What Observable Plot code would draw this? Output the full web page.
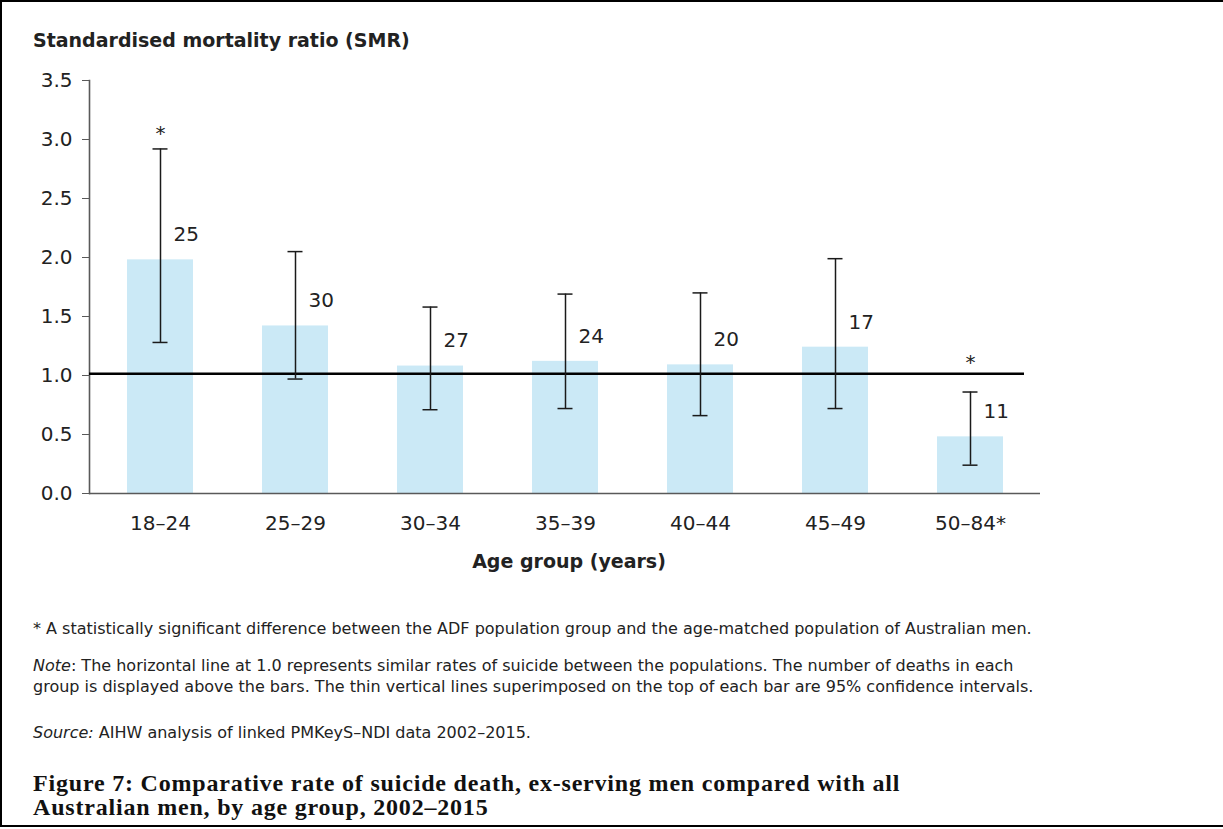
<!DOCTYPE html>
<html>
<head>
<meta charset="utf-8">
<script src="https://cdn.jsdelivr.net/npm/d3@7"></script>
<script src="https://cdn.jsdelivr.net/npm/@observablehq/plot@0.6"></script>
<style>
  body { margin: 0; background: #fff; }
  #wrap { position: relative; width: 1223px; height: 829px; overflow: hidden; background: #fff;
          font-family: "DejaVu Sans", sans-serif; color: #222; }
  #border { position: absolute; left: 0; top: 0; width: 1223px; height: 827px; box-sizing: border-box;
            border-left: 2px solid #000; border-top: 2px solid #000; border-bottom: 2px solid #000; }
  #chart { position: absolute; left: 0; top: 0; }
  .t { position: absolute; white-space: nowrap; line-height: 20px; }
  #ytitle { left: 33px; top: 30px; font-weight: bold; font-size: 19px; }
  #xtitle { left: 569px; top: 551px; transform: translateX(-50%); font-weight: bold; font-size: 19px; }
  .note { left: 33px; font-size: 16px; }
  #fig { position: absolute; left: 33px; top: 771px; font-family: "Liberation Serif", serif; font-weight: bold;
         font-size: 24px; line-height: 24px; letter-spacing: 0.8px; color: #111; white-space: nowrap; }
</style>
</head>
<body>
<div id="wrap">
  <div id="border"></div>
  <div id="chart"></div>
  <div class="t" id="ytitle"></div>
  <div class="t" id="xtitle"></div>
  <div class="t note" id="n1" style="top:619px"></div>
  <div class="t note" id="n2" style="top:656px"></div>
  <div class="t note" id="n3" style="top:677px"></div>
  <div class="t note" id="n4" style="top:723px"></div>
  <div id="fig"></div>
</div>
<script>
// ---- data ----
const ages = ["18–24", "25–29", "30–34", "35–39", "40–44", "45–49", "50–84*"];
const smr = [1.98, 1.42, 1.08, 1.12, 1.09, 1.24, 0.48];
const ciLow = [1.28, 0.97, 0.71, 0.72, 0.66, 0.72, 0.24];
const ciHigh = [2.92, 2.05, 1.58, 1.69, 1.70, 1.99, 0.86];
const deaths = [25, 30, 27, 24, 20, 17, 11];
const sigMarkY = [3.05, null, null, null, null, null, 1.11];
const refValue = 1.015;
const yTicks = [0, 0.5, 1.0, 1.5, 2.0, 2.5, 3.0, 3.5];

const yTitle = "Standardised mortality ratio (SMR)";
const xTitle = "Age group (years)";
const footnote = "* A statistically significant difference between the ADF population group and the age-matched population of Australian men.";
const noteLine1 = "The horizontal line at 1.0 represents similar rates of suicide between the populations. The number of deaths in each";
const noteLine2 = "group is displayed above the bars. The thin vertical lines superimposed on the top of each bar are 95% confidence intervals.";
const sourceText = "AIHW analysis of linked PMKeyS–NDI data 2002–2015.";
const figLine1 = "Figure 7: Comparative rate of suicide death, ex-serving men compared with all";
const figLine2 = "Australian men, by age group, 2002–2015";

const data = ages.map((a, i) => ({age: a, smr: smr[i], lo: ciLow[i], hi: ciHigh[i], n: deaths[i], sig: sigMarkY[i]}));

const ink = "#1a1a1a";
const axisGrey = "#595959";

const chart = Plot.plot({
  width: 1223,
  height: 600,
  marginLeft: 89,
  marginRight: 183,
  marginTop: 80,
  marginBottom: 107,
  style: {fontFamily: "'DejaVu Sans', sans-serif", fontSize: "20px", color: "#222", background: "transparent", overflow: "visible"},
  x: {domain: ages, paddingInner: 0.514, paddingOuter: 0.265, label: null},
  y: {domain: [0, 3.5], label: null},
  marks: [
    Plot.barY(data, {x: "age", y: "smr", fill: "#cbe9f6"}),
    Plot.ruleY([0], {stroke: axisGrey, strokeWidth: 1.6}),
    Plot.frame({anchor: "left", stroke: axisGrey, strokeWidth: 1.6}),
    Plot.ruleY([refValue], {stroke: "#000", strokeWidth: 2.5, insetRight: 16}),
    Plot.ruleX(data, {x: "age", y1: "lo", y2: "hi", stroke: ink, strokeWidth: 1.5}),
    Plot.tickY(data, {x: "age", y: "lo", stroke: ink, strokeWidth: 1.5, insetLeft: 25.5, insetRight: 25.5}),
    Plot.tickY(data, {x: "age", y: "hi", stroke: ink, strokeWidth: 1.5, insetLeft: 25.5, insetRight: 25.5}),
    Plot.text(data, {x: "age", y: "smr", text: "n", dx: 13, dy: -25, textAnchor: "start", fontSize: 20, fill: "#222"}),
    Plot.text(data.filter(d => d.sig != null), {x: "age", y: "sig", text: () => "*", fontSize: 20, fill: "#222"}),
    Plot.axisY({ticks: yTicks, tickFormat: d => d.toFixed(1), tickSize: 7, tickPadding: 10, fontSize: 20, stroke: axisGrey, fill: "#222", label: null}),
    Plot.axisX({tickSize: 0, tickPadding: 22, fontSize: 20, fill: "#222", label: null})
  ]
});
document.getElementById("chart").appendChild(chart);

document.getElementById("ytitle").textContent = yTitle;
document.getElementById("xtitle").textContent = xTitle;
document.getElementById("n1").textContent = footnote;
document.getElementById("n2").innerHTML = "<i>Note</i>: " + noteLine1;
document.getElementById("n3").textContent = noteLine2;
document.getElementById("n4").innerHTML = "<i>Source:</i> " + sourceText;
document.getElementById("fig").innerHTML = figLine1 + "<br>" + figLine2;
</script>
</body>
</html>
